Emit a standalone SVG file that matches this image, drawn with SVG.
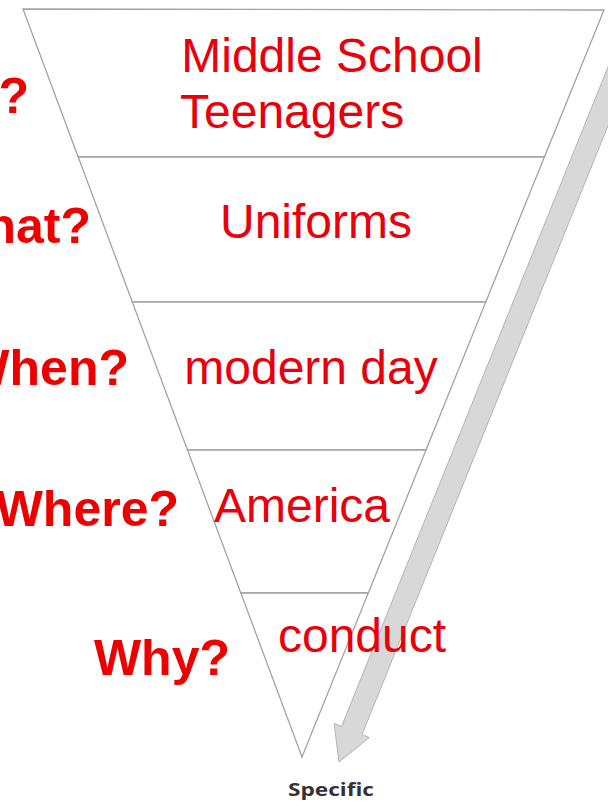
<svg xmlns="http://www.w3.org/2000/svg" width="608" height="803" viewBox="0 0 608 803">
<style>
.lvl{fill:#ffffff;stroke:#a3a3a3;stroke-width:1.3;stroke-linejoin:miter}
.in{font-family:"Liberation Sans",Arial,sans-serif;font-size:48px;fill:#e8000b;text-anchor:middle}
.q{font-family:"Liberation Sans",Arial,sans-serif;font-size:50px;font-weight:bold;fill:#ee0000;text-anchor:end}
.band{fill:#d8d8d8;stroke:#b4b4b4;stroke-width:1}
</style>
<rect width="608" height="803" fill="#ffffff"/>
<g id="level-1">
<polygon class="lvl" points="23,9 604,10 544.4,157 78.2,157"/>
<text class="in" x="332" y="72">Middle School</text>
<text class="in" x="180" y="128" style="text-anchor:start">Teenagers</text>
</g>
<g id="level-2">
<polygon class="lvl" points="78.2,157 544.4,157 485.8,302 132.3,302"/>
<text class="in" x="316" y="238">Uniforms</text>
</g>
<g id="level-3">
<polygon class="lvl" points="132.3,302 485.8,302 426,450 187.5,450"/>
<text class="in" x="311" y="384">modern day</text>
</g>
<g id="level-4">
<polygon class="lvl" points="187.5,450 426,450 368.3,593 240.8,593"/>
<text class="in" x="302" y="522">America</text>
</g>
<g id="level-5">
<polygon class="lvl" points="240.8,593 368.3,593 302,757"/>
</g>
<g id="connectors">
<polygon class="band" points="612.5,55.9 341.6,726.4 334.1,723.4 339,762 369.4,737.6 362,734.6 632.9,64.1"/>
</g>
<g id="level-5-label">
<text class="in" x="362" y="652">conduct</text>
</g>
<g id="questions">
<text class="q" x="29" y="113">Who?</text>
<text class="q" x="91" y="243">What?</text>
<text class="q" x="129" y="385">When?</text>
<text class="q" x="179" y="526">Where?</text>
<text class="q" x="230" y="675">Why?</text>
</g>
<g id="specific">
<text x="288" y="796" font-family="'Open Sans','Liberation Sans',sans-serif" font-size="17" font-weight="bold" fill="#333333" textLength="86" lengthAdjust="spacingAndGlyphs">Specific</text>
</g>
</svg>
